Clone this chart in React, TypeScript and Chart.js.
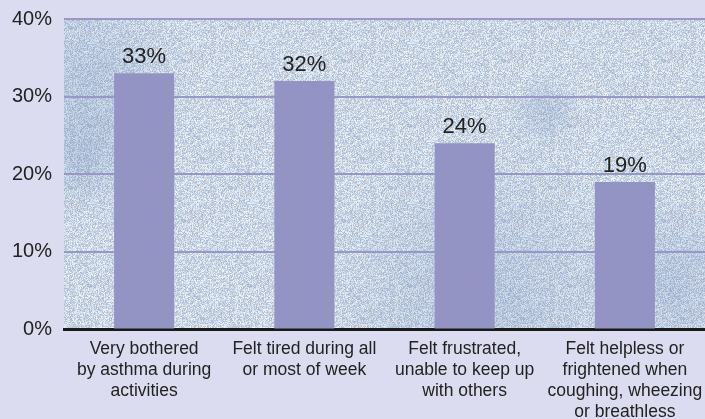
import React, { useEffect, useRef } from "react";
import { Chart, registerables } from "chart.js";

Chart.register(...registerables);

const categories: string[][] = [
  ["Very bothered", "by asthma during", "activities"],
  ["Felt tired during all", "or most of week"],
  ["Felt frustrated,", "unable to keep up", "with others"],
  ["Felt helpless or", "frightened when", "coughing, wheezing", "or breathless"],
];
const values: number[] = [33, 32, 24, 19];
const yTicks: number[] = [0, 10, 20, 30, 40];

const PAGE_BG = "#dcdcf0";
const BAR = "#9494c4";
const GRID = "#9898c8";
const TEXT = "#222222";
const FONT = "Arial, 'Liberation Sans', Helvetica, sans-serif";

function makeTexture(): HTMLCanvasElement {
  const c = document.createElement("canvas");
  c.width = 160;
  c.height = 160;
  const ctx = c.getContext("2d")!;
  const img = ctx.createImageData(160, 160);
  let s = 12345;
  const rnd = () => {
    s = (s * 1103515245 + 12345) & 0x7fffffff;
    return s / 0x7fffffff;
  };
  for (let i = 0; i < 160 * 160; i++) {
    const b = (rnd() - 0.5) * 64;
    const h = (rnd() - 0.5) * 26;
    img.data[i * 4] = Math.max(0, Math.min(255, 204 + b - h));
    img.data[i * 4 + 1] = Math.max(0, Math.min(255, 215 + b));
    img.data[i * 4 + 2] = Math.max(0, Math.min(255, 229 + b * 0.7 + h));
    img.data[i * 4 + 3] = 255;
  }
  ctx.putImageData(img, 0, 0);
  return c;
}

const blotches: [number, number, number][] = [
  [0.04, 0.2, 0.16],
  [0.03, 0.45, 0.1],
  [0.65, 0.9, 0.25],
  [0.95, 0.85, 0.15],
  [0.75, 0.3, 0.06],
];

const bgPlugin = {
  id: "bgPlugin",
  beforeDraw(chart: any) {
    const { ctx, chartArea, width, height } = chart;
    const { left, top, right, bottom } = chartArea;
    const w = right - left;
    const h = bottom - top;
    ctx.save();
    ctx.fillStyle = PAGE_BG;
    ctx.fillRect(0, 0, width, height);
    const pat = ctx.createPattern(makeTexture(), "repeat");
    ctx.fillStyle = pat || "#c8d6e5";
    ctx.fillRect(left, top, w, h);
    ctx.beginPath();
    ctx.rect(left, top, w, h);
    ctx.clip();
    blotches.forEach(([fx, fy, fr]) => {
      const cx = left + fx * w;
      const cy = top + fy * h;
      const r = fr * w;
      const g = ctx.createRadialGradient(cx, cy, 0, cx, cy, r);
      g.addColorStop(0, "rgba(110,140,190,0.25)");
      g.addColorStop(1, "rgba(110,140,190,0)");
      ctx.fillStyle = g;
      ctx.fillRect(cx - r, cy - r, 2 * r, 2 * r);
    });
    ctx.restore();
  },
};

const labelPlugin = {
  id: "labelPlugin",
  afterDatasetsDraw(chart: any) {
    const { ctx } = chart;
    const meta = chart.getDatasetMeta(0);
    ctx.save();
    ctx.fillStyle = TEXT;
    ctx.font = `22px ${FONT}`;
    ctx.textAlign = "center";
    ctx.textBaseline = "alphabetic";
    meta.data.forEach((el: any, i: number) => {
      ctx.fillText(values[i] + "%", el.x, el.y - 10);
    });
    ctx.restore();
  },
};

export default function App() {
  const ref = useRef<HTMLCanvasElement>(null);
  useEffect(() => {
    const chart = new Chart(ref.current!, {
      type: "bar",
      data: {
        labels: categories,
        datasets: [
          {
            data: values,
            backgroundColor: BAR,
            borderWidth: 0,
            barPercentage: 0.375,
            categoryPercentage: 1,
          },
        ],
      },
      options: {
        responsive: false,
        animation: false,
        layout: { padding: { top: 19, right: 0, left: 0, bottom: 0 } },
        plugins: { legend: { display: false }, tooltip: { enabled: false } },
        scales: {
          x: {
            grid: { display: false, drawTicks: false },
            border: { display: true, color: "#1a1a1a", width: 3 },
            ticks: {
              color: TEXT,
              font: { family: FONT, size: 17.5, lineHeight: 1.2 },
              padding: 9,
              maxRotation: 0,
              autoSkip: false,
            },
            afterFit: (s: any) => {
              s.height = 89.5;
              s.paddingLeft = 0;
              s.paddingRight = 0;
            },
          },
          y: {
            min: 0,
            max: 40,
            afterBuildTicks: (s: any) => {
              s.ticks = yTicks.map((v) => ({ value: v }));
            },
            grid: {
              color: (c: any) => (c.tick && c.tick.value === 0 ? "rgba(0,0,0,0)" : GRID),
              lineWidth: 2,
              drawTicks: false,
            },
            border: { display: false },
            ticks: {
              color: TEXT,
              font: { family: FONT, size: 20 },
              padding: 12,
              callback: (v: any) => v + "%",
            },
            afterFit: (s: any) => {
              s.width = 64;
              s.paddingTop = 0;
              s.paddingBottom = 0;
            },
          },
        },
      },
      plugins: [bgPlugin, labelPlugin],
    });
    return () => chart.destroy();
  }, []);
  return (
    <div style={{ position: "absolute", left: 0, top: 0, width: 705, height: 419, background: PAGE_BG }}>
      <canvas ref={ref} width={705} height={419} style={{ display: "block" }} />
    </div>
  );
}
